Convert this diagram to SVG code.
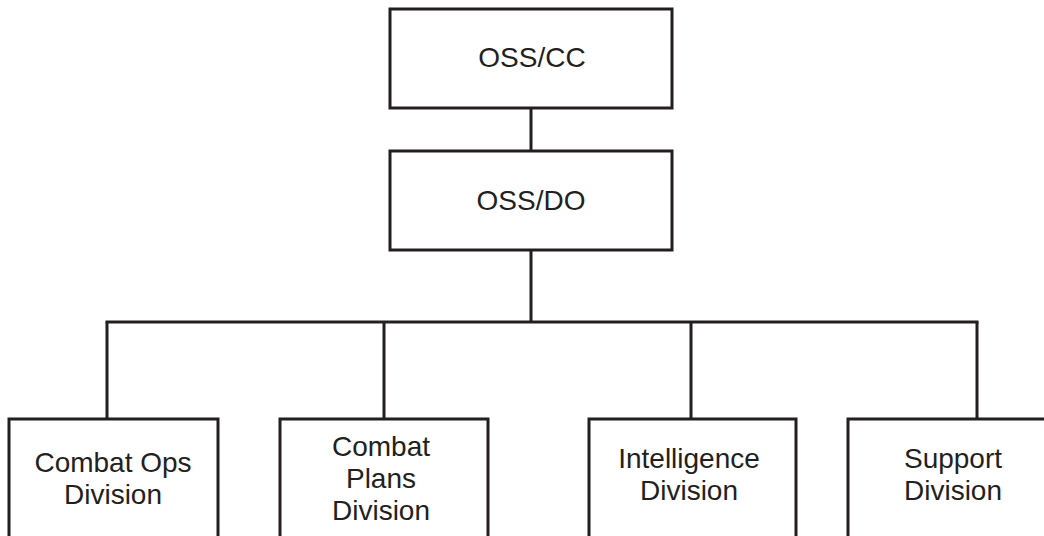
<svg xmlns="http://www.w3.org/2000/svg" width="1044" height="536" viewBox="0 0 1044 536">
  <style>
    .box { fill: #ffffff; stroke: #231f20; stroke-width: 3; }
    .wire { fill: none; stroke: #231f20; stroke-width: 3; }
    .label { font-family: "Liberation Sans", Arial, sans-serif; font-size: 28px; fill: #231f20; text-anchor: middle; }
  </style>
  <rect width="1044" height="536" fill="#ffffff"/>

  <!-- connectors -->
  <g id="connectors">
    <line class="wire" x1="531" y1="108" x2="531" y2="151"/>
    <line class="wire" x1="531" y1="250" x2="531" y2="322"/>
    <line class="wire" x1="105.5" y1="322" x2="978.5" y2="322"/>
    <line class="wire" x1="107" y1="322" x2="107" y2="419"/>
    <line class="wire" x1="384" y1="322" x2="384" y2="419"/>
    <line class="wire" x1="691" y1="322" x2="691" y2="419"/>
    <line class="wire" x1="977" y1="322" x2="977" y2="419"/>
  </g>

  <!-- command level -->
  <g id="oss-cc">
    <rect class="box" x="390" y="9" width="282" height="99"/>
    <text class="label" x="532" y="67">OSS/CC</text>
  </g>
  <g id="oss-do">
    <rect class="box" x="390" y="151" width="282" height="99"/>
    <text class="label" x="531" y="210">OSS/DO</text>
  </g>

  <!-- divisions -->
  <g id="combat-ops">
    <rect class="box" x="9" y="419" width="209" height="140"/>
    <text class="label" x="113" y="472">Combat Ops<tspan x="113" dy="32">Division</tspan></text>
  </g>
  <g id="combat-plans">
    <rect class="box" x="280" y="419" width="208" height="140"/>
    <text class="label" x="381" y="456">Combat<tspan x="381" dy="32">Plans</tspan><tspan x="381" dy="32">Division</tspan></text>
  </g>
  <g id="intelligence">
    <rect class="box" x="589" y="419" width="207" height="140"/>
    <text class="label" x="689" y="468">Intelligence<tspan x="689" dy="32">Division</tspan></text>
  </g>
  <g id="support">
    <rect class="box" x="848" y="419" width="210" height="140"/>
    <text class="label" x="953" y="468">Support<tspan x="953" dy="32">Division</tspan></text>
  </g>
</svg>
